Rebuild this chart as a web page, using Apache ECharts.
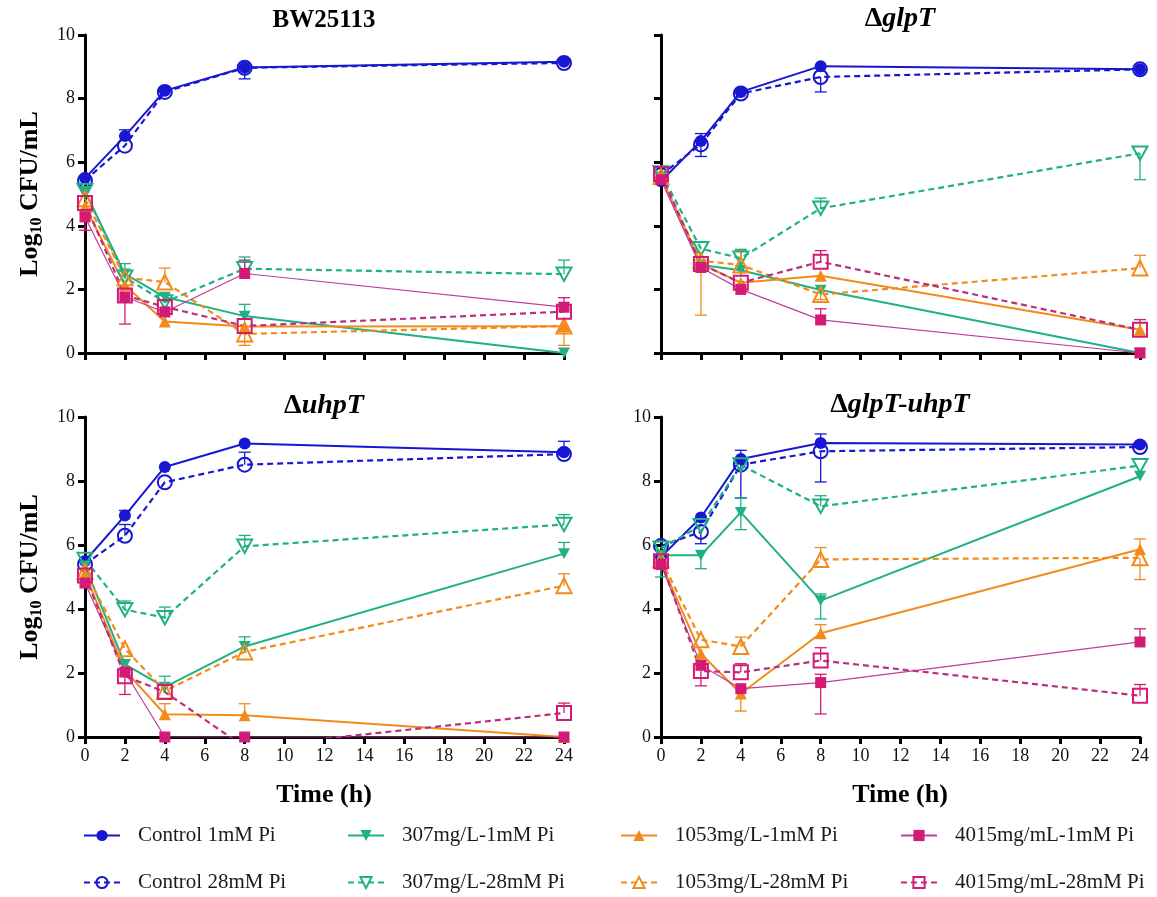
<!DOCTYPE html>
<html>
<head>
<meta charset="utf-8">
<title>Log10 CFU/mL time-kill curves</title>
<script src="https://cdn.jsdelivr.net/npm/echarts@6/dist/echarts.min.js"></script>
<style>
  html, body { margin: 0; padding: 0; background: #fff; }
  #chart { width: 1157px; height: 897px; }
</style>
</head>
<body>
<div id="chart"></div>
<script>
// ---- data -----------------------------------------------------------------
const timePoints = [0, 2, 4, 8, 24];

const seriesNames = [
  'Control 1mM Pi', 'Control 28mM Pi',
  '307mg/L-1mM Pi', '307mg/L-28mM Pi',
  '1053mg/L-1mM Pi', '1053mg/L-28mM Pi',
  '4015mg/mL-1mM Pi', '4015mg/mL-28mM Pi'
];

// BW25113 (rows follow seriesNames)
const bwMean = [
  [5.50, 6.82, 8.25, 8.98, 9.16],
  [5.43, 6.52, 8.21, 8.97, 9.12],
  [5.08, 2.49, 1.76, 1.16, 0.00],
  [5.10, 2.38, 1.60, 2.65, 2.48],
  [4.60, 2.13, 0.99, 0.83, 0.84],
  [4.85, 2.37, 2.23, 0.60, 0.85],
  [4.28, 1.76, 1.29, 2.50, 1.44],
  [4.72, 1.81, 1.45, 0.85, 1.30]
];
const bwErrUp = [
  [0, 0.20, 0, 0, 0],
  [0, 0, 0, 0, 0],
  [0, 0.32, 0, 0.37, 0],
  [0, 0, 0, 0.37, 0.44],
  [0, 0, 0, 0, 0],
  [0, 0, 0.44, 0, 0],
  [0, 0, 0, 0.42, 0.30],
  [0, 0, 0, 0, 0]
];
const bwErrDown = [
  [0, 0, 0, 0, 0],
  [0, 0, 0, 0.35, 0],
  [0, 0, 0, 0, 0],
  [0, 0, 0, 0, 0],
  [0, 0, 0, 0, 0.60],
  [0, 0, 0, 0.36, 0],
  [0.42, 0, 0, 0, 0],
  [0, 0.90, 0, 0, 0]
];

// ΔglpT
const glpMean = [
  [5.40, 6.67, 8.21, 9.02, 8.92],
  [5.60, 6.56, 8.16, 8.68, 8.92],
  [5.50, 2.77, 2.60, 1.98, 0.00],
  [5.66, 3.28, 2.98, 4.55, 6.28],
  [5.50, 2.80, 2.21, 2.43, 0.73],
  [5.55, 2.90, 2.77, 1.84, 2.67],
  [5.45, 2.69, 2.00, 1.04, 0.00],
  [5.63, 2.80, 2.21, 2.87, 0.73]
];
const glpErrUp = [
  [0, 0.23, 0, 0, 0],
  [0, 0, 0, 0, 0],
  [0, 0, 0, 0, 0],
  [0, 0, 0.28, 0.32, 0],
  [0, 0, 0, 0, 0],
  [0, 0, 0.45, 0, 0.40],
  [0, 0, 0, 0.35, 0],
  [0, 0, 0, 0.35, 0.32]
];
const glpErrDown = [
  [0, 0, 0, 0, 0],
  [0, 0.38, 0, 0.47, 0],
  [0, 0, 0, 0, 0],
  [0, 0, 0, 0, 0.83],
  [0, 0, 0, 0, 0],
  [0, 1.71, 0, 0.16, 0],
  [0, 0, 0, 0, 0],
  [0, 0, 0, 0, 0]
];

// ΔuhpT
const uhpMean = [
  [5.50, 6.92, 8.44, 9.17, 8.90],
  [5.40, 6.29, 7.96, 8.51, 8.84],
  [5.35, 2.27, 1.56, 2.83, 5.73],
  [5.55, 3.98, 3.73, 5.96, 6.64],
  [5.10, 2.08, 0.71, 0.68, 0.00],
  [5.18, 2.76, 1.44, 2.66, 4.73],
  [4.81, 2.03, 0.00, 0.00, 0.00],
  [5.05, 1.90, 1.41, -0.32, 0.75]
];
const uhpErrUp = [
  [0, 0.16, 0, 0, 0.34],
  [0, 0.35, 0, 0.39, 0],
  [0, 0, 0.34, 0.30, 0.35],
  [0, 0.27, 0.33, 0.34, 0.31],
  [0, 0, 0.33, 0.36, 0],
  [0, 0, 0, 0, 0.37],
  [0, 0, 0, 0, 0],
  [0, 0, 0, 0, 0.31]
];
const uhpErrDown = [
  [0, 0, 0, 0, 0],
  [0, 0, 0, 0, 0],
  [0, 0, 0, 0, 0],
  [0, 0, 0, 0, 0],
  [0, 0, 0, 0, 0],
  [0, 0, 0, 0, 0],
  [0, 0, 0, 0, 0],
  [0, 0.57, 0, 0, 0]
];

// ΔglpT-uhpT
const dblMean = [
  [5.63, 6.86, 8.69, 9.19, 9.14],
  [5.97, 6.41, 8.51, 8.93, 9.06],
  [5.68, 5.68, 7.02, 4.26, 8.15],
  [5.90, 6.60, 8.50, 7.21, 8.48],
  [5.44, 2.60, 1.36, 3.24, 5.87],
  [5.54, 3.04, 2.83, 5.55, 5.60],
  [5.39, 2.24, 1.51, 1.70, 2.97],
  [5.49, 2.06, 2.02, 2.39, 1.29]
];
const dblErrUp = [
  [0, 0, 0.27, 0.28, 0],
  [0, 0, 0, 0, 0],
  [0, 0, 0.45, 0.21, 0],
  [0, 0, 0, 0.33, 0],
  [0, 0, 0, 0.27, 0.32],
  [0, 0, 0.29, 0.37, 0],
  [0, 0, 0, 0.26, 0.41],
  [0, 0, 0.27, 0.40, 0.35]
];
const dblErrDown = [
  [0, 0, 0, 0, 0],
  [0, 0.37, 1.04, 0.96, 0],
  [0.68, 0.42, 0.54, 0.57, 0],
  [0, 0, 0, 0, 0],
  [0, 0, 0.55, 0, 0],
  [0, 0, 0, 0, 0.68],
  [0, 0, 0, 0.98, 0],
  [0, 0.46, 0, 0, 0]
];

const panels = [
  { title: '{n|BW25113}', mean: bwMean, up: bwErrUp, down: bwErrDown },
  { title: '{d|Δ}{i|glpT}', mean: glpMean, up: glpErrUp, down: glpErrDown },
  { title: '{d|Δ}{i|uhpT}', mean: uhpMean, up: uhpErrUp, down: uhpErrDown },
  { title: '{d|Δ}{i|glpT-uhpT}', mean: dblMean, up: dblErrUp, down: dblErrDown }
];

// ---- styling ------------------------------------------------------------------
const SERIF = "'Liberation Serif', 'Times New Roman', serif";
const BLUE = '#1717d2', GREEN = '#1fb184', ORANGE = '#f38b1c', PINK = '#d31a74';
const TRI_DOWN = 'path://M0,0 L10,0 L5,9 Z';

const seriesStyles = [
  { color: BLUE,   line: BLUE,      symbol: 'circle',   size: 12, filled: true,  dashed: false, width: 2 },
  { color: BLUE,   line: BLUE,      symbol: 'circle',   size: 14, filled: false, dashed: true,  width: 2.2 },
  { color: GREEN,  line: GREEN,     symbol: TRI_DOWN,   size: 12, filled: true,  dashed: false, width: 2 },
  { color: GREEN,  line: GREEN,     symbol: TRI_DOWN,   size: 15, filled: false, dashed: true,  width: 2.2 },
  { color: ORANGE, line: ORANGE,    symbol: 'triangle', size: 12, filled: true,  dashed: false, width: 2 },
  { color: ORANGE, line: ORANGE,    symbol: 'triangle', size: 15, filled: false, dashed: true,  width: 2.2 },
  { color: PINK,   line: '#bd4098', symbol: 'rect',     size: 11, filled: true,  dashed: false, width: 1.2 },
  { color: PINK,   line: '#b8307f', symbol: 'rect',     size: 14, filled: false, dashed: true,  width: 2.2 }
];

const grids = [
  { left: 85,  top: 35,  width: 479, height: 318 },
  { left: 661, top: 35,  width: 479, height: 318 },
  { left: 85,  top: 417, width: 479, height: 320 },
  { left: 661, top: 417, width: 479, height: 320 }
];

function xAxisFor(i) {
  return {
    type: 'value', gridIndex: i, min: 0, max: 24, interval: 2,
    axisLine: { show: true, onZero: false, lineStyle: { color: '#000', width: 3 } },
    axisTick: { show: true, inside: false, length: 7, lineStyle: { color: '#000', width: 3 } },
    axisLabel: { show: i >= 2, color: '#111', fontFamily: SERIF, fontSize: 18, margin: 10 },
    splitLine: { show: false }
  };
}
function yAxisFor(i) {
  return {
    type: 'value', gridIndex: i, min: 0, max: 10, interval: 2,
    axisLine: { show: true, onZero: false, lineStyle: { color: '#000', width: 3 } },
    axisTick: { show: true, inside: false, length: 7, lineStyle: { color: '#000', width: 3 } },
    axisLabel: { show: i !== 1, color: '#111', fontFamily: SERIF, fontSize: 18, margin: 10 },
    splitLine: { show: false }
  };
}

function errorBarRenderer(color) {
  return function (params, api) {
    const t = api.value(0), v = api.value(1), up = api.value(2), dn = api.value(3);
    const c = api.coord([t, v]);
    const half = 6;
    const children = [];
    const seg = (x1, y1, x2, y2) => ({
      type: 'line', shape: { x1, y1, x2, y2 },
      style: { stroke: color, lineWidth: 1.3 }
    });
    if (up > 0) {
      const p = api.coord([t, v + up]);
      children.push(seg(c[0], c[1], p[0], p[1]));
      children.push(seg(p[0] - half, p[1], p[0] + half, p[1]));
    }
    if (dn > 0) {
      const p = api.coord([t, v - dn]);
      children.push(seg(c[0], c[1], p[0], p[1]));
      children.push(seg(p[0] - half, p[1], p[0] + half, p[1]));
    }
    return { type: 'group', children };
  };
}

// ---- series -------------------------------------------------------------------
const lineSeries = [];
const errorSeries = [];
panels.forEach((panel, p) => {
  seriesNames.forEach((name, k) => {
    const st = seriesStyles[k];
    lineSeries.push({
      type: 'line', name, xAxisIndex: p, yAxisIndex: p,
      data: timePoints.map((t, i) => [t, panel.mean[k][i]]),
      symbol: st.symbol, symbolSize: st.size, symbolKeepAspect: true,
      showSymbol: true, clip: true, z: 3,
      lineStyle: { color: st.line, width: st.width, type: st.dashed ? [6, 4] : 'solid' },
      itemStyle: st.filled
        ? { color: st.color, borderColor: st.color, borderWidth: 0 }
        : { color: 'rgba(255,255,255,0)', borderColor: st.color, borderWidth: 2 },
      emphasis: { disabled: true }
    });
    errorSeries.push({
      type: 'custom', name, xAxisIndex: p, yAxisIndex: p, z: 2,
      data: timePoints.map((t, i) => [t, panel.mean[k][i], panel.up[k][i], panel.down[k][i]]),
      encode: { x: 0, y: 1 },
      renderItem: errorBarRenderer(st.color),
      silent: true
    });
  });
});

// ---- legend (two rows of four) ----------------------------------------------------
const legendCols = [83, 347, 620, 900];
const legendRows = [825, 872];
const legends = seriesNames.map((name, k) => ({
  data: [name],
  left: legendCols[Math.floor(k / 2)],
  top: legendRows[k % 2],
  orient: 'horizontal', padding: 0, itemGap: 0,
  itemWidth: 36, itemHeight: 14,
  textStyle: { fontFamily: SERIF, fontSize: 21, color: '#1a1a1a', padding: [0, 0, 0, 13] }
}));

// ---- text: panel titles and axis titles ------------------------------------------------
const titleRich = {
  n: { fontFamily: SERIF, fontSize: 25, fontWeight: 'bold', fill: '#000' },
  d: { fontFamily: SERIF, fontSize: 28, fontWeight: 'bold', fill: '#000' },
  i: { fontFamily: SERIF, fontSize: 28, fontWeight: 'bold', fontStyle: 'italic', fill: '#000' }
};
const titleCenters = [[324, 21], [900, 19], [324, 406], [900, 405]];
const yTitleRich = {
  a: { fontFamily: SERIF, fontSize: 26, fontWeight: 'bold', fill: '#000', lineHeight: 30, verticalAlign: 'middle' },
  s: { fontFamily: SERIF, fontSize: 16, fontWeight: 'bold', fill: '#000', lineHeight: 16, verticalAlign: 'bottom' }
};

const graphics = [];
panels.forEach((panel, p) => {
  graphics.push({
    type: 'text', x: titleCenters[p][0], y: titleCenters[p][1], silent: true,
    style: { text: panel.title, rich: titleRich, align: 'center', verticalAlign: 'middle' }
  });
});
[194, 577].forEach(cy => {
  graphics.push({
    type: 'text', x: 30, y: cy, rotation: Math.PI / 2, silent: true,
    style: { text: '{a|Log}{s|10}{a| CFU/mL}', rich: yTitleRich, align: 'center', verticalAlign: 'middle' }
  });
});
[324, 900].forEach(cx => {
  graphics.push({
    type: 'text', x: cx, y: 795, silent: true,
    style: { text: 'Time (h)', fontFamily: SERIF, fontSize: 26, fontWeight: 'bold', fill: '#000',
             align: 'center', verticalAlign: 'middle' }
  });
});

// ---- chart ------------------------------------------------------------------------
const chart = echarts.init(document.getElementById('chart'), null, { renderer: 'canvas' });
chart.setOption({
  backgroundColor: '#fff',
  animation: false,
  grid: grids,
  xAxis: grids.map((g, i) => xAxisFor(i)),
  yAxis: grids.map((g, i) => yAxisFor(i)),
  legend: legends,
  graphic: graphics,
  series: lineSeries.concat(errorSeries)
});
</script>
</body>
</html>
